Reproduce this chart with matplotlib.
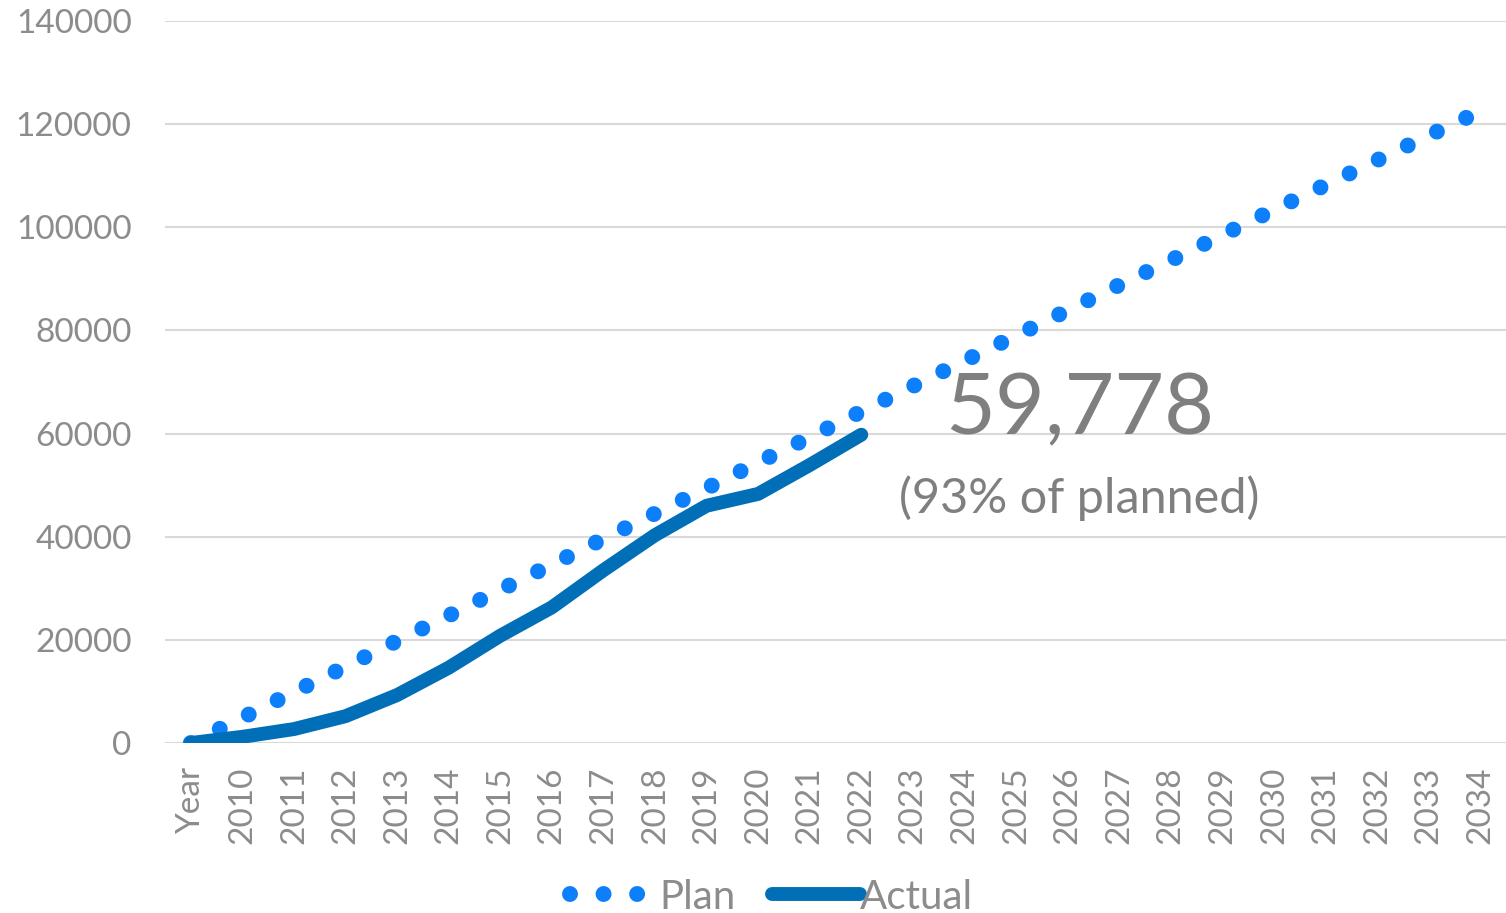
import matplotlib
matplotlib.use('Agg')
import matplotlib.pyplot as plt
from matplotlib.lines import Line2D

plt.rcParams['font.family'] = ['Lato', 'DejaVu Sans']

categories = ['Year'] + [str(y) for y in range(2010, 2035)]
plan = [0, 4900, 9900, 14800, 19800, 24700, 29700, 34600, 39600, 44500,
        49400, 54400, 59300, 64277, 69200, 74100, 79000, 83900, 88800,
        93600, 98500, 103400, 108200, 113000, 117800, 122500]
actual = [0, 1200, 2700, 5200, 9300, 14600, 20800, 26300, 33500, 40300,
          46000, 48300, 53900, 59778]
yticks = [0, 20000, 40000, 60000, 80000, 100000, 120000, 140000]

grey = '#8c8c8c'
plan_col = '#0d7ffb'
act_col = '#006fb8'

fig = plt.figure(figsize=(15.06, 9.13), dpi=100)
ax = fig.add_axes([165 / 1506, 1 - 743 / 913, 1 - 165 / 1506, (743 - 21) / 913])

x = list(range(len(categories)))
ax.plot(x, plan, color=plan_col, lw=11.5, linestyle=(0, (0.001, 2.02)),
        dash_capstyle='round', label='Plan', zorder=2)
ax.plot(x[:len(actual)], actual, color=act_col, lw=10,
        solid_capstyle='round', solid_joinstyle='round', label='Actual', zorder=3)

ax.set_xlim(-0.5, len(categories) - 0.5)
ax.set_ylim(0, 140000)
ax.set_yticks(yticks)
ax.set_yticklabels([str(v) for v in yticks])
ax.set_xticks(x)
ax.set_xticklabels(categories, rotation=90, va='top', ha='center')
ax.tick_params(axis='both', length=0, colors=grey, labelsize=24)
ax.tick_params(axis='y', pad=24)
ax.tick_params(axis='x', pad=17)
for s in ax.spines.values():
    s.set_visible(False)
ax.grid(axis='y', color='#d9d9d9', lw=1.5)
ax.set_axisbelow(True)

ax.text(0.7168, 1 - 410 / 913, '59,778', transform=fig.transFigure,
        ha='center', va='center', fontsize=62, color='#7f7f7f')
ax.text(0.7168, 1 - 498 / 913, '(93% of planned)', transform=fig.transFigure,
        ha='center', va='center', fontsize=35, color='#7f7f7f')

handles = [Line2D([], [], color=plan_col, lw=11.5, linestyle=(0, (0.001, 2.1)),
                  dash_capstyle='round'),
           Line2D([], [], color=act_col, lw=10, solid_capstyle='round')]
leg = fig.legend(handles, ['Plan', 'Actual'], loc='center', ncol=2,
                 bbox_to_anchor=(0.5125, 1 - 897 / 913), frameon=False,
                 fontsize=29, handlelength=2.2, handletextpad=0.0,
                 columnspacing=0.9, labelcolor=grey)

fig.savefig('out.png', dpi=100)
